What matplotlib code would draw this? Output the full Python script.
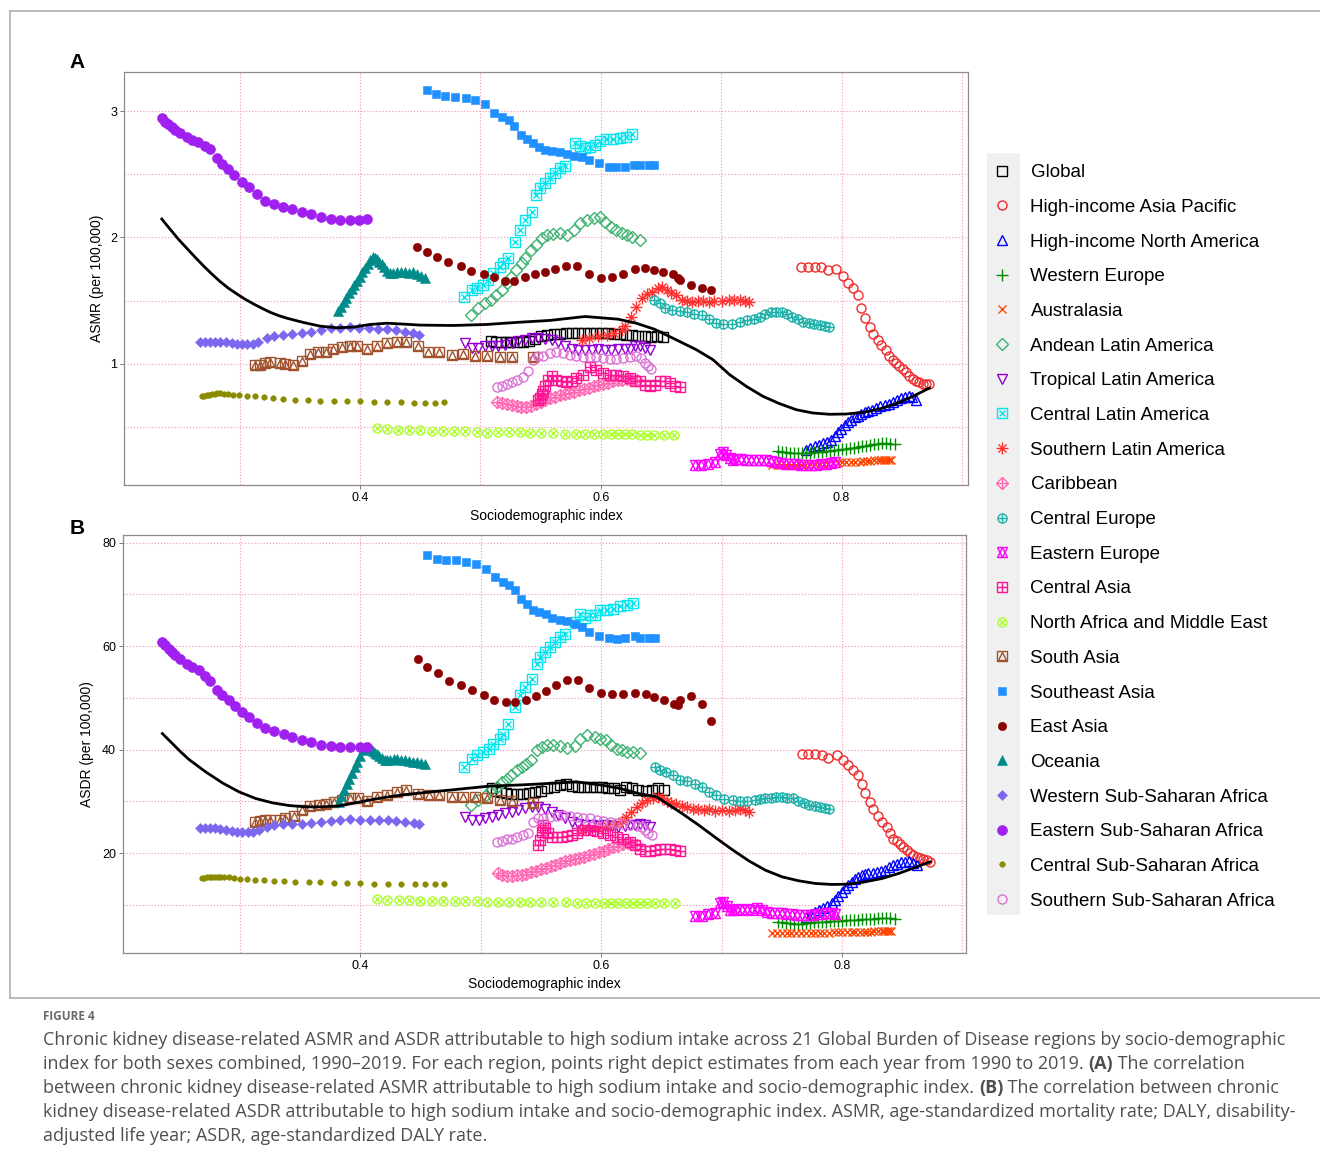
import matplotlib
matplotlib.use("Agg")
import matplotlib.pyplot as plt
from matplotlib.lines import Line2D
from matplotlib.legend_handler import HandlerTuple
from matplotlib.patches import Rectangle

plt.rcParams['font.family'] = ['Liberation Sans', 'DejaVu Sans']

# ---------------- data: SDI, ASMR (panel A), ASDR (panel B) ----------------
sdi_global = [0.509,0.513,0.517,0.521,0.525,0.530,0.535,0.540,0.545,0.550,0.555,0.561,0.566,0.571,0.576,0.581,0.586,0.591,0.596,0.601,0.606,0.611,0.616,0.621,0.626,0.631,0.637,0.642,0.647,0.652]
asmr_global = [1.184,1.176,1.169,1.169,1.171,1.174,1.176,1.184,1.195,1.216,1.229,1.232,1.235,1.240,1.243,1.243,1.243,1.243,1.243,1.243,1.243,1.237,1.232,1.226,1.224,1.221,1.216,1.210,1.216,1.210]
asdr_global = [32.5,32.05,31.85,31.66,31.53,31.53,31.53,31.66,31.85,32.05,32.5,32.82,33.14,33.33,32.95,32.82,32.82,32.82,32.82,32.82,32.69,32.5,32.3,32.82,32.69,32.3,32.05,32.3,32.5,32.3]

sdi_hiap = [0.7665,0.7721,0.7776,0.7831,0.7886,0.7956,0.8011,0.8053,0.8094,0.8136,0.8163,0.8191,0.8232,0.826,0.8301,0.8329,0.8371,0.8398,0.8426,0.8454,0.8481,0.8509,0.8537,0.8564,0.8592,0.862,0.8647,0.8675,0.8703,0.873]
asmr_hiap = [1.769,1.769,1.769,1.764,1.743,1.751,1.696,1.638,1.598,1.545,1.44,1.361,1.29,1.237,1.19,1.15,1.111,1.063,1.032,1.005,0.979,0.958,0.931,0.905,0.881,0.866,0.852,0.842,0.839,0.842]
asdr_hiap = [39.13,39.13,39.13,39.0,38.3,38.9,37.97,37.0,36.04,35.07,33.46,31.66,29.92,28.63,27.15,26.05,24.96,23.8,22.83,22.38,21.74,21.22,20.58,20.06,19.61,19.29,19.16,18.9,18.65,18.2]

sdi_hina = [0.7701,0.774,0.7776,0.7812,0.7845,0.7878,0.7914,0.7942,0.7969,0.7997,0.8025,0.8052,0.808,0.8108,0.8136,0.8163,0.8191,0.8218,0.8255,0.8288,0.8321,0.8357,0.8393,0.8426,0.8459,0.849,0.8523,0.8556,0.8587,0.862]
asmr_hina = [0.315,0.333,0.346,0.36,0.373,0.383,0.399,0.425,0.457,0.486,0.512,0.536,0.557,0.576,0.589,0.605,0.615,0.626,0.636,0.65,0.663,0.673,0.684,0.7,0.715,0.726,0.737,0.747,0.734,0.71]
asdr_hina = [7.7,8.21,8.66,8.99,9.31,9.76,10.27,10.92,11.69,12.53,13.17,13.82,14.46,14.91,15.43,15.69,15.94,16.07,16.2,16.39,16.59,16.84,17.23,17.68,18.0,18.2,18.33,18.45,18.13,17.68]

sdi_we = [0.7472,0.7505,0.7538,0.7571,0.7604,0.7638,0.7671,0.7704,0.7737,0.777,0.7804,0.7837,0.787,0.7903,0.7936,0.7969,0.8003,0.8036,0.8069,0.8102,0.8135,0.8169,0.8202,0.8235,0.8268,0.8301,0.8335,0.8368,0.8401,0.844]
asmr_we = [0.307,0.302,0.299,0.294,0.294,0.291,0.291,0.294,0.296,0.299,0.302,0.304,0.307,0.312,0.318,0.320,0.323,0.328,0.331,0.336,0.341,0.346,0.352,0.357,0.362,0.368,0.373,0.373,0.368,0.362]
asdr_we = [6.7,6.6,6.5,6.5,6.4,6.4,6.4,6.5,6.5,6.6,6.6,6.7,6.7,6.8,6.8,6.9,6.9,7.0,7.0,7.1,7.1,7.2,7.2,7.3,7.3,7.4,7.5,7.5,7.4,7.3]

sdi_aus = [0.742,0.746,0.750,0.754,0.758,0.762,0.766,0.770,0.774,0.778,0.782,0.785,0.789,0.793,0.797,0.800,0.804,0.808,0.811,0.815,0.818,0.821,0.824,0.827,0.830,0.833,0.835,0.837,0.839,0.841]
asmr_aus = [0.20,0.20,0.20,0.20,0.20,0.20,0.20,0.20,0.205,0.205,0.21,0.21,0.21,0.215,0.215,0.22,0.22,0.22,0.225,0.225,0.23,0.23,0.23,0.235,0.235,0.24,0.24,0.24,0.235,0.235]
asdr_aus = [4.5,4.5,4.5,4.5,4.5,4.5,4.55,4.55,4.6,4.6,4.6,4.65,4.65,4.7,4.7,4.7,4.75,4.75,4.8,4.8,4.8,4.85,4.85,4.9,4.9,4.9,4.95,4.95,4.95,4.9]

sdi_ala = [0.492,0.4981,0.5041,0.5086,0.5132,0.5177,0.5222,0.5252,0.5298,0.5343,0.5373,0.5418,0.5464,0.5509,0.5554,0.5599,0.566,0.572,0.578,0.5826,0.5886,0.5946,0.5992,0.6037,0.6082,0.6128,0.6173,0.6218,0.6263,0.6324]
asmr_ala = [1.387,1.44,1.48,1.506,1.545,1.585,1.638,1.69,1.743,1.796,1.835,1.901,1.941,1.994,2.02,2.028,2.033,2.02,2.059,2.112,2.138,2.151,2.16,2.125,2.086,2.059,2.033,2.02,2.007,1.98]
asdr_ala = [29.28,30.24,31.21,32.17,32.82,33.78,34.43,35.07,36.04,36.68,37.33,37.97,39.9,40.55,40.87,40.87,40.68,40.42,40.68,42.16,42.8,42.48,42.16,41.84,40.87,40.23,39.9,39.58,39.58,39.39]

sdi_tla = [0.4871,0.4927,0.4982,0.5037,0.5093,0.5148,0.5203,0.5259,0.5314,0.5369,0.5425,0.548,0.5535,0.5591,0.5646,0.5701,0.5757,0.5812,0.5867,0.5923,0.5978,0.6033,0.6089,0.6144,0.6199,0.6241,0.6282,0.6324,0.6365,0.6407]
asmr_tla = [1.163,1.124,1.124,1.137,1.137,1.142,1.15,1.163,1.177,1.19,1.203,1.203,1.195,1.185,1.169,1.137,1.116,1.111,1.111,1.111,1.113,1.111,1.111,1.113,1.116,1.119,1.137,1.142,1.124,1.111]
asdr_tla = [27.0,26.4,26.4,26.7,26.9,27.3,27.7,28.0,28.4,28.7,28.95,28.95,28.6,28.0,27.3,26.7,26.1,25.7,25.4,25.4,25.2,25.4,25.2,25.1,25.2,25.4,25.4,25.7,25.4,25.1]

sdi_cla = [0.486,0.4927,0.4968,0.5023,0.5065,0.5106,0.5162,0.5189,0.5231,0.5286,0.5328,0.5369,0.5425,0.5466,0.5494,0.5535,0.5577,0.5618,0.566,0.5701,0.5784,0.5826,0.5867,0.5909,0.595,0.5992,0.6047,0.6102,0.6158,0.6213,0.6263]
asmr_cla = [1.532,1.585,1.598,1.625,1.664,1.717,1.769,1.796,1.835,1.967,2.059,2.138,2.204,2.336,2.389,2.428,2.468,2.507,2.547,2.565,2.75,2.723,2.705,2.718,2.731,2.765,2.776,2.779,2.789,2.797,2.816]
asdr_cla = [36.7,38.29,38.94,39.58,40.23,41.06,41.97,43.0,44.93,48.28,50.53,52.14,53.76,56.65,57.94,58.9,59.87,60.84,61.8,62.45,64.7,66.31,65.54,66.0,66.0,66.96,66.96,67.28,67.73,68.05,68.38]

sdi_sla = [0.5841,0.5901,0.5977,0.6052,0.6112,0.6173,0.6203,0.6248,0.6294,0.6339,0.6384,0.6429,0.6475,0.6505,0.655,0.658,0.6626,0.6671,0.6716,0.6761,0.6806,0.6852,0.6897,0.6942,0.7003,0.7063,0.7108,0.7154,0.7199,0.7229]
asmr_sla = [1.19,1.203,1.216,1.229,1.243,1.269,1.3,1.374,1.453,1.519,1.553,1.572,1.598,1.611,1.585,1.559,1.545,1.506,1.493,1.485,1.493,1.493,1.485,1.493,1.493,1.506,1.506,1.501,1.493,1.485]
asdr_sla = [24.44,24.64,24.9,25.22,25.6,26.25,27.02,27.99,28.95,29.73,30.24,30.57,30.89,30.57,30.11,29.73,29.47,29.21,28.95,28.63,28.44,28.31,28.44,28.18,28.31,28.12,28.31,28.44,28.31,27.99]

sdi_car = [0.514,0.518,0.522,0.526,0.530,0.534,0.538,0.542,0.546,0.550,0.554,0.558,0.562,0.566,0.570,0.574,0.578,0.582,0.586,0.590,0.594,0.598,0.602,0.606,0.610,0.614,0.618,0.622,0.626,0.630]
asmr_car = [0.70,0.69,0.68,0.67,0.665,0.66,0.66,0.665,0.68,0.70,0.715,0.73,0.74,0.75,0.76,0.77,0.78,0.79,0.80,0.81,0.82,0.83,0.84,0.85,0.86,0.87,0.875,0.88,0.875,0.87]
asdr_car = [16.1,15.8,15.6,15.6,15.7,15.8,16.0,16.3,16.6,16.9,17.2,17.5,17.8,18.1,18.4,18.6,18.8,19.0,19.3,19.6,19.9,20.2,20.5,20.8,21.1,21.4,21.7,21.9,21.8,21.6]

sdi_ce = [0.6444,0.649,0.6535,0.6595,0.6656,0.6716,0.6776,0.6837,0.6897,0.6958,0.7017,0.7093,0.7154,0.7214,0.7274,0.732,0.7365,0.741,0.7456,0.7501,0.7546,0.7591,0.7637,0.7682,0.7727,0.7772,0.7817,0.7863,0.7893]
asmr_ce = [1.506,1.48,1.44,1.427,1.414,1.406,1.395,1.387,1.353,1.322,1.316,1.316,1.327,1.348,1.353,1.374,1.395,1.406,1.406,1.406,1.395,1.374,1.353,1.334,1.322,1.316,1.308,1.3,1.29]
asdr_ce = [36.56,36.04,35.72,35.07,34.2,34.0,33.46,32.7,31.85,31.15,30.4,30.24,30.11,30.11,30.24,30.4,30.57,30.7,30.89,30.89,30.7,30.57,30.11,29.6,29.28,29.08,28.95,28.82,28.63]

sdi_ee = [0.678,0.6836,0.689,0.6946,0.6988,0.7015,0.7043,0.7071,0.7098,0.7126,0.7167,0.7209,0.725,0.7292,0.7333,0.7375,0.7416,0.7458,0.75,0.7541,0.7583,0.7624,0.7665,0.7707,0.7748,0.779,0.7831,0.7873,0.7914,0.7942]
asmr_ee = [0.202,0.202,0.209,0.22,0.289,0.299,0.281,0.254,0.241,0.246,0.246,0.241,0.236,0.241,0.236,0.236,0.228,0.22,0.215,0.209,0.209,0.207,0.202,0.202,0.202,0.202,0.207,0.209,0.215,0.22]
asdr_ee = [7.83,7.83,8.15,8.47,10.27,10.6,9.76,8.99,8.99,9.11,8.99,9.11,8.99,9.31,8.99,8.66,8.47,8.34,8.34,8.21,8.15,8.02,8.02,8.02,8.02,8.15,8.21,8.34,8.34,8.21]

sdi_ca = [0.548,0.5494,0.5508,0.5521,0.5535,0.5563,0.5591,0.5632,0.5674,0.5715,0.5757,0.5798,0.5853,0.5909,0.5964,0.6019,0.6075,0.613,0.6185,0.6241,0.6282,0.6324,0.6365,0.6407,0.6448,0.649,0.6531,0.6573,0.6614,0.6656]
asmr_ca = [0.71,0.729,0.76,0.781,0.82,0.87,0.9,0.875,0.86,0.852,0.86,0.887,0.913,0.974,0.953,0.926,0.913,0.913,0.9,0.887,0.86,0.86,0.834,0.826,0.834,0.86,0.86,0.85,0.826,0.816]
asdr_ca = [21.55,22.51,24.12,25.41,24.77,23.8,23.15,23.03,23.15,23.28,23.48,23.93,24.44,24.57,24.31,23.93,23.48,23.15,22.64,22.19,21.55,20.9,20.45,20.45,20.58,20.9,20.9,20.77,20.58,20.45]

sdi_name = [0.4139,0.4222,0.4318,0.4409,0.4498,0.4595,0.4686,0.4783,0.4871,0.4968,0.5054,0.5148,0.5239,0.5328,0.5411,0.5502,0.5602,0.5705,0.5796,0.5871,0.5946,0.6022,0.6083,0.6141,0.6203,0.6263,0.6324,0.6384,0.6444,0.6523,0.661]
asmr_name = [0.491,0.483,0.478,0.478,0.474,0.465,0.465,0.465,0.465,0.46,0.452,0.456,0.46,0.456,0.452,0.452,0.448,0.447,0.445,0.444,0.444,0.444,0.442,0.441,0.44,0.44,0.439,0.439,0.439,0.439,0.439]
asdr_name = [11.05,10.95,10.9,10.85,10.8,10.8,10.8,10.8,10.8,10.7,10.6,10.6,10.6,10.6,10.5,10.5,10.5,10.5,10.45,10.45,10.4,10.4,10.4,10.4,10.4,10.4,10.45,10.45,10.45,10.45,10.45]

sdi_sa = [0.3129,0.317,0.3212,0.3253,0.3336,0.3378,0.3446,0.3516,0.3585,0.3654,0.3718,0.3778,0.3848,0.3917,0.3978,0.4056,0.4139,0.4222,0.4305,0.4382,0.4479,0.4567,0.4658,0.4761,0.4857,0.4954,0.5051,0.5162,0.5259,0.5438]
asmr_sa = [0.987,0.992,1.005,1.011,1.005,1.0,0.992,1.018,1.079,1.09,1.09,1.116,1.132,1.142,1.142,1.116,1.142,1.163,1.169,1.176,1.137,1.097,1.09,1.071,1.079,1.063,1.063,1.053,1.053,1.053]
asdr_sa = [26.05,26.25,26.38,26.5,26.5,26.7,27.15,28.31,29.08,29.28,29.47,29.92,30.37,30.57,30.57,30.11,30.89,31.21,31.85,32.3,31.53,31.21,31.21,30.89,30.89,30.89,30.57,30.37,30.11,29.73]

sdi_sea = [0.4558,0.4634,0.471,0.4791,0.4881,0.4959,0.5041,0.5116,0.5183,0.5237,0.5282,0.5337,0.5388,0.5433,0.5485,0.5539,0.5593,0.566,0.572,0.578,0.5841,0.5901,0.5986,0.6067,0.6128,0.6197,0.6278,0.6324,0.6399,0.6444]
asmr_sea = [3.166,3.134,3.121,3.113,3.105,3.087,3.055,2.982,2.955,2.929,2.881,2.81,2.776,2.745,2.713,2.692,2.686,2.678,2.66,2.644,2.634,2.613,2.587,2.56,2.555,2.555,2.573,2.573,2.573,2.573]
asdr_sea = [77.58,76.94,76.75,76.62,76.29,75.84,75.01,73.4,72.43,71.79,70.95,69.21,68.25,67.09,66.63,66.31,65.54,65.15,64.89,64.38,63.74,62.77,61.93,61.68,61.48,61.68,61.93,61.68,61.68,61.68]

sdi_ea = [0.4477,0.4558,0.4643,0.4734,0.4839,0.4926,0.5026,0.511,0.5207,0.5282,0.5373,0.5457,0.5539,0.5623,0.5714,0.5805,0.5901,0.6001,0.6091,0.6182,0.6285,0.6369,0.6438,0.652,0.6602,0.6641,0.6656,0.6746,0.6837,0.6912]
asmr_ea = [1.928,1.888,1.843,1.804,1.775,1.738,1.711,1.685,1.659,1.659,1.685,1.711,1.73,1.751,1.775,1.775,1.711,1.677,1.685,1.711,1.751,1.756,1.743,1.73,1.711,1.677,1.664,1.625,1.598,1.58]
asdr_ea = [57.62,56.0,54.85,53.3,52.46,51.5,50.66,49.7,49.24,49.24,49.7,50.4,51.37,52.46,53.56,53.56,51.95,51.04,50.85,50.72,50.98,50.72,50.21,49.57,48.92,48.6,49.7,50.4,48.79,45.51]

sdi_oc = [0.382,0.3842,0.3865,0.3887,0.3909,0.3931,0.3953,0.3975,0.3998,0.402,0.4041,0.4064,0.4086,0.4105,0.4122,0.4139,0.4158,0.418,0.4202,0.4224,0.4249,0.4277,0.4304,0.4338,0.4373,0.4407,0.4437,0.447,0.4504,0.4539]
asmr_oc = [1.414,1.453,1.488,1.524,1.559,1.593,1.625,1.659,1.69,1.725,1.756,1.791,1.822,1.843,1.835,1.827,1.809,1.791,1.764,1.738,1.722,1.722,1.725,1.725,1.725,1.722,1.727,1.711,1.696,1.677]
asdr_oc = [29.92,31.08,32.17,33.33,34.43,35.52,36.56,37.65,38.74,39.9,40.55,40.55,40.23,39.78,39.45,39.13,38.74,38.42,38.1,38.1,38.1,38.29,38.29,38.1,37.97,37.9,37.65,37.65,37.46,37.33]

sdi_wssa = [0.2672,0.2714,0.2755,0.2797,0.2838,0.2888,0.2935,0.2977,0.3018,0.3065,0.311,0.3156,0.3226,0.3286,0.3358,0.3433,0.3516,0.3593,0.3676,0.3757,0.3834,0.3917,0.3994,0.4077,0.4152,0.4227,0.4299,0.4373,0.4443,0.4492]
asmr_wssa = [1.176,1.176,1.176,1.176,1.171,1.169,1.163,1.158,1.158,1.155,1.158,1.176,1.203,1.216,1.229,1.235,1.243,1.25,1.269,1.282,1.282,1.29,1.282,1.282,1.277,1.277,1.264,1.255,1.243,1.229]
asdr_wssa = [24.77,24.77,24.77,24.77,24.64,24.44,24.25,24.12,24.0,24.12,24.12,24.57,25.09,25.41,25.6,25.6,25.73,25.86,26.05,26.25,26.5,26.57,26.5,26.5,26.5,26.38,26.25,26.05,25.86,25.6]

sdi_essa = [0.2354,0.2382,0.2409,0.2437,0.2465,0.2506,0.2562,0.2603,0.2658,0.2714,0.2755,0.2811,0.2852,0.2907,0.2957,0.3018,0.3079,0.3143,0.3212,0.3286,0.3364,0.3433,0.3516,0.3593,0.3676,0.3757,0.3834,0.3917,0.3994,0.4055]
asmr_essa = [2.942,2.916,2.897,2.871,2.850,2.824,2.797,2.771,2.757,2.723,2.697,2.626,2.581,2.539,2.494,2.441,2.397,2.341,2.291,2.265,2.244,2.225,2.199,2.183,2.165,2.146,2.138,2.136,2.141,2.144]
asdr_essa = [60.84,60.19,59.55,58.9,58.26,57.62,56.65,56.0,55.36,54.27,53.24,51.63,50.66,49.57,48.47,47.31,46.34,45.19,44.22,43.64,43.12,42.48,41.96,41.51,41.0,40.68,40.55,40.48,40.55,40.61]

sdi_cssa = [0.2686,0.2705,0.2728,0.2749,0.2772,0.2794,0.2816,0.2838,0.2871,0.2907,0.2949,0.2998,0.306,0.3129,0.3203,0.328,0.3364,0.3461,0.3571,0.3668,0.3784,0.389,0.4,0.4116,0.4227,0.434,0.4451,0.4539,0.4622,0.4697]
asmr_cssa = [0.747,0.747,0.75,0.755,0.758,0.763,0.768,0.768,0.763,0.76,0.755,0.75,0.747,0.742,0.736,0.729,0.722,0.715,0.712,0.707,0.702,0.702,0.702,0.698,0.695,0.695,0.689,0.689,0.692,0.695]
asdr_cssa = [15.23,15.23,15.3,15.35,15.42,15.42,15.42,15.42,15.35,15.3,15.23,15.1,15.0,14.9,14.78,14.7,14.6,14.46,14.4,14.33,14.27,14.2,14.14,14.1,14.05,14.0,13.95,13.95,13.95,14.0]

sdi_sssa = [0.5134,0.5176,0.5217,0.5259,0.53,0.535,0.5397,0.5438,0.548,0.5521,0.5577,0.5632,0.5687,0.5743,0.5798,0.5853,0.5909,0.5964,0.6019,0.6075,0.613,0.6185,0.6241,0.6296,0.6338,0.6365,0.6393,0.642]
asmr_sssa = [0.813,0.821,0.842,0.852,0.874,0.895,0.939,1.032,1.058,1.063,1.084,1.09,1.084,1.071,1.058,1.053,1.053,1.053,1.045,1.037,1.037,1.045,1.053,1.058,1.045,1.005,0.979,0.958]
asdr_sssa = [22.19,22.38,22.83,22.64,23.15,23.48,23.93,26.05,26.7,26.89,27.02,27.15,27.34,27.15,27.02,26.7,26.7,26.38,26.25,26.05,25.86,25.6,25.41,25.22,25.09,24.44,23.93,23.48]

# smoothed fit
smooth_a_sdi = [0.2354,0.2423,0.2492,0.2562,0.2631,0.27,0.2769,0.2838,0.2907,0.2977,0.3046,0.3115,0.3184,0.3253,0.3322,0.3392,0.353,0.3668,0.3807,0.3945,0.4083,0.4222,0.436,0.4498,0.4774,0.5051,0.5328,0.5577,0.5871,0.6143,0.6294,0.6444,0.6656,0.6794,0.6932,0.7071,0.7209,0.7347,0.7485,0.7624,0.7762,0.79,0.8039,0.8177,0.8315,0.8454,0.8592,0.873]
smooth_a_val = [2.146,2.065,1.986,1.914,1.843,1.775,1.711,1.651,1.598,1.553,1.511,1.474,1.44,1.408,1.382,1.361,1.327,1.298,1.285,1.29,1.311,1.321,1.314,1.306,1.303,1.311,1.329,1.343,1.374,1.353,1.321,1.274,1.176,1.111,1.032,0.913,0.821,0.742,0.684,0.636,0.61,0.60,0.602,0.615,0.642,0.684,0.742,0.808]
smooth_b_sdi = [0.2357,0.244,0.2509,0.2578,0.2716,0.2855,0.2993,0.3131,0.327,0.3408,0.3546,0.3685,0.3823,0.3961,0.41,0.4238,0.4376,0.4515,0.4791,0.5068,0.5344,0.5556,0.5797,0.6008,0.6159,0.631,0.646,0.6672,0.6811,0.6949,0.7087,0.7226,0.7364,0.7502,0.764,0.7779,0.7917,0.8056,0.8193,0.8332,0.847,0.8608,0.8733]
smooth_b_val = [43.12,41.19,39.58,38.1,35.72,33.59,31.85,30.57,29.73,29.21,28.95,28.95,29.15,29.73,30.37,30.89,31.34,31.66,32.3,32.95,33.2,33.46,33.78,33.14,32.5,31.53,30.9,27.67,25.41,23.03,20.71,18.52,16.71,15.43,14.66,14.14,13.95,14.01,14.46,15.1,16.07,17.23,18.33]

# marker recipes (R pch look-alikes): (marker, filled, size)
regions = [
    ("Global", sdi_global, asmr_global, asdr_global, "black", [("s", False, 6.5)]),
    ("High-income Asia Pacific", sdi_hiap, asmr_hiap, asdr_hiap, "#EE2C2C", [("o", False, 6.5)]),
    ("High-income North America", sdi_hina, asmr_hina, asdr_hina, "#0000FF", [("^", False, 7.5)]),
    ("Western Europe", sdi_we, asmr_we, asdr_we, "#008B00", [("+", True, 8.5)]),
    ("Australasia", sdi_aus, asmr_aus, asdr_aus, "#FF4500", [("x", True, 6)]),
    ("Andean Latin America", sdi_ala, asmr_ala, asdr_ala, "#3CB371", [("D", False, 6.5)]),
    ("Tropical Latin America", sdi_tla, asmr_tla, asdr_tla, "#9400D3", [("v", False, 7.5)]),
    ("Central Latin America", sdi_cla, asmr_cla, asdr_cla, "#00E5EE", [("s", False, 6.5), ("x", True, 5)]),
    ("Southern Latin America", sdi_sla, asmr_sla, asdr_sla, "#FF3030", [("+", True, 8), ("x", True, 6)]),
    ("Caribbean", sdi_car, asmr_car, asdr_car, "#FF69B4", [("D", False, 6.5), ("+", True, 8)]),
    ("Central Europe", sdi_ce, asmr_ce, asdr_ce, "#20B2AA", [("o", False, 6.5), ("+", True, 6.5)]),
    ("Eastern Europe", sdi_ee, asmr_ee, asdr_ee, "#FF00FF", [("^", False, 7.5), ("v", False, 7.5)]),
    ("Central Asia", sdi_ca, asmr_ca, asdr_ca, "#FF1493", [("s", False, 6.5), ("+", True, 6.5)]),
    ("North Africa and Middle East", sdi_name, asmr_name, asdr_name, "#ADFF2F", [("o", False, 6.5), ("x", True, 4.6)]),
    ("South Asia", sdi_sa, asmr_sa, asdr_sa, "#A0522D", [("s", False, 6.5), ("^", False, 5.5)]),
    ("Southeast Asia", sdi_sea, asmr_sea, asdr_sea, "#1E90FF", [("s", True, 6)]),
    ("East Asia", sdi_ea, asmr_ea, asdr_ea, "#8B0000", [("o", True, 6)]),
    ("Oceania", sdi_oc, asmr_oc, asdr_oc, "#008B8B", [("^", True, 7)]),
    ("Western Sub-Saharan Africa", sdi_wssa, asmr_wssa, asdr_wssa, "#7B68EE", [("D", True, 4.8)]),
    ("Eastern Sub-Saharan Africa", sdi_essa, asmr_essa, asdr_essa, "#A020F0", [("o", True, 7.2)]),
    ("Central Sub-Saharan Africa", sdi_cssa, asmr_cssa, asdr_cssa, "#8B8B00", [("o", True, 4)]),
    ("Southern Sub-Saharan Africa", sdi_sssa, asmr_sssa, asdr_sssa, "#DA70D6", [("o", False, 6.5)]),
]

W, H = 1320, 1166
fig = plt.figure(figsize=(W / 100, H / 100), dpi=100)


def fx(px):
    return px / W


def fy(py):
    return 1 - py / H


def style_kw(color, m, filled, ms):
    kw = dict(ls="none", marker=m, ms=ms, color=color)
    if m in ("+", "x"):
        kw["mew"] = 1.0
    elif filled:
        kw.update(mfc=color, mec=color, mew=0.4)
    else:
        kw.update(mfc="none", mec=color, mew=1.0)
    return kw


grid_kw = dict(color="#F2A3C2", linestyle=(0, (1.2, 1.6)), linewidth=0.8)


def setup_axes(ax, xlim, ylim, yticks, yminor, ylabel, ylabel_x):
    ax.set_xlim(*xlim)
    ax.set_ylim(*ylim)
    ax.set_xticks([0.4, 0.6, 0.8])
    ax.set_xticklabels(["0.4", "0.6", "0.8"])
    ax.set_xticks([0.3, 0.5, 0.7, 0.9], minor=True)
    ax.set_yticks(yticks)
    ax.set_yticklabels([str(t) for t in yticks])
    ax.set_yticks(yminor, minor=True)
    ax.grid(True, which="both", **grid_kw)
    ax.set_axisbelow(True)
    ax.tick_params(which="major", length=3, width=0.7, color="#777777", labelsize=9, pad=2)
    ax.tick_params(which="minor", length=0)
    for sp in ax.spines.values():
        sp.set_color("#8c8c8c")
        sp.set_linewidth(0.9)
    ax.set_xlabel("Sociodemographic index", fontsize=10)
    ax.xaxis.set_label_coords(0.5, -0.058)
    ax.set_ylabel(ylabel, fontsize=10)
    ax.yaxis.set_label_coords(ylabel_x, 0.5)


axA = fig.add_axes([fx(124), fy(485), fx(968) - fx(124), fy(72) - fy(485)])
axB = fig.add_axes([fx(123), fy(953), fx(966) - fx(123), fy(535) - fy(953)])

for ax, col in ((axA, 2), (axB, 3)):
    for z, reg in enumerate(regions):
        name, xs, color, parts = reg[0], reg[1], reg[4], reg[5]
        ys = reg[col]
        n = min(len(xs), len(ys))
        for m, filled, ms in parts:
            ax.plot(xs[:n], ys[:n], zorder=3 + z * 0.01, **style_kw(color, m, filled, ms))

axA.plot(smooth_a_sdi, smooth_a_val, color="black", lw=2.0, zorder=5, solid_joinstyle="round")
axB.plot(smooth_b_sdi, smooth_b_val, color="black", lw=2.0, zorder=5, solid_joinstyle="round")

setup_axes(axA, (0.204, 0.905), (0.04, 3.31), [1, 2, 3], [0.5, 1.5, 2.5],
           "ASMR (per 100,000)", -0.024)
setup_axes(axB, (0.203, 0.903), (0.7, 81.5), [20, 40, 60, 80], [10, 30, 50, 70],
           "ASDR (per 100,000)", -0.034)

fig.text(fx(77), fy(63), "A", fontsize=15, fontweight="bold", ha="center", va="center")
fig.text(fx(77), fy(528), "B", fontsize=15, fontweight="bold", ha="center", va="center")

# legend
fig.add_artist(Rectangle((fx(987), fy(915)), fx(1020) - fx(987), fy(153) - fy(915),
                         transform=fig.transFigure, facecolor="#F0F0F0", edgecolor="none", zorder=0))
handles, labels = [], []
for reg in regions:
    name, color, parts = reg[0], reg[4], reg[5]
    hs = tuple(Line2D([], [], **style_kw(color, m, filled, ms)) for m, filled, ms in parts)
    handles.append(hs if len(hs) > 1 else hs[0])
    labels.append(name)
fig.legend(handles, labels, loc="upper left", bbox_to_anchor=(fx(993), fy(164)),
           frameon=False, fontsize=13.5, handlelength=1.0, handletextpad=1.0,
           labelspacing=0.937, borderpad=0, borderaxespad=0,
           handler_map={tuple: HandlerTuple(ndivide=1, pad=0)})

# outer frame
frame_kw = dict(color="#b0b0b0", lw=1.2, transform=fig.transFigure)
fig.add_artist(Line2D([fx(10), fx(1320)], [fy(11), fy(11)], **frame_kw))
fig.add_artist(Line2D([fx(10), fx(10)], [fy(11), fy(998)], **frame_kw))
fig.add_artist(Line2D([fx(10), fx(1320)], [fy(998), fy(998)], **frame_kw))

# caption
cap_font = ["Open Sans", "DejaVu Sans"]
fig.text(fx(43), fy(1017), "FIGURE 4", fontsize=8.5, color="#6a6a6a", fontweight="bold",
         family=cap_font, ha="left", va="center")
caption_lines = [
    [("Chronic kidney disease-related ASMR and ASDR attributable to high sodium intake across 21 Global Burden of Disease regions by socio-demographic", "normal")],
    [("index for both sexes combined, 1990\u20132019. For each region, points right depict estimates from each year from 1990 to 2019. ", "normal"),
     ("(A)", "bold"), (" The correlation", "normal")],
    [("between chronic kidney disease-related ASMR attributable to high sodium intake and socio-demographic index. ", "normal"),
     ("(B)", "bold"), (" The correlation between chronic", "normal")],
    [("kidney disease-related ASDR attributable to high sodium intake and socio-demographic index. ASMR, age-standardized mortality rate; DALY, disability-", "normal")],
    [("adjusted life year; ASDR, age-standardized DALY rate.", "normal")],
]
renderer = fig.canvas.get_renderer()
probe = fig.text(0, 0, caption_lines[0][0][0], fontsize=10, family=cap_font)
pw = probe.get_window_extent(renderer).width
probe.remove()
cap_size = 10 * 1244 / pw
for i, segs in enumerate(caption_lines):
    x = fx(43)
    y = fy(1040 + 24 * i)
    for s, wt in segs:
        t = fig.text(x, y, s, fontsize=cap_size, fontweight=wt, color="#4f4f4f",
                     family=cap_font, ha="left", va="center")
        x += t.get_window_extent(renderer).width / W

fig.savefig("out.png", dpi=100)
